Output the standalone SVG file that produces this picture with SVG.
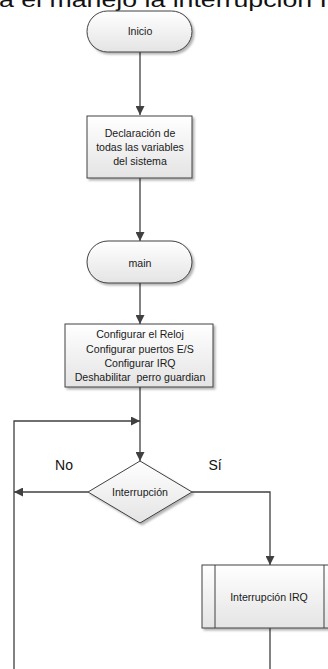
<svg xmlns="http://www.w3.org/2000/svg" width="328" height="669" viewBox="0 0 328 669">
<defs>
<linearGradient id="g" x1="0" y1="0" x2="0" y2="1">
<stop offset="0" stop-color="#ffffff"/>
<stop offset="1" stop-color="#e4e4e4"/>
</linearGradient>
<filter id="sh" x="-10%" y="-10%" width="130%" height="140%">
<feDropShadow dx="2" dy="2" stdDeviation="1.2" flood-color="#000" flood-opacity="0.3"/>
</filter>
<marker id="ah" viewBox="0 0 10 10" refX="10" refY="5" markerWidth="9" markerHeight="9" markerUnits="userSpaceOnUse" orient="auto">
<path d="M0,0 L10,5 L0,10 Z" fill="#404040"/>
</marker>
</defs>
<style>
.shape{fill:url(#g);stroke:#404040;stroke-width:1;filter:url(#sh)}
.t{font-family:"Liberation Sans",Arial,sans-serif;font-size:10.6px;fill:#1a1a1a;text-anchor:middle}
.lbl{font-family:"Liberation Sans",Arial,sans-serif;font-size:14px;fill:#111;text-anchor:middle}
.c{fill:none;stroke:#404040;stroke-width:1.3}
</style>
<rect width="328" height="669" fill="#fff"/>
<text x="-1" y="7" font-family="Liberation Sans,Arial,sans-serif" font-size="20" fill="#111" textLength="328" lengthAdjust="spacingAndGlyphs">a el manejo la interrupción I</text>
<g id="connectors">
<path class="c" d="M140,52 V115" marker-end="url(#ah)"/>
<path class="c" d="M140,178 V241" marker-end="url(#ah)"/>
<path class="c" d="M140,283 V324" marker-end="url(#ah)"/>
<path class="c" d="M140,387 V461" marker-end="url(#ah)"/>
<path class="c" d="M14,669 V421 H140" marker-end="url(#ah)"/>
<path class="c" d="M88,492 H14" marker-end="url(#ah)"/>
<path class="c" d="M192,492 H270 V565" marker-end="url(#ah)"/>
<path class="c" d="M270,628 V669"/>
</g>
<g id="inicio">
<rect class="shape" x="87" y="11" width="105" height="41" rx="20.5"/>
<text class="t" x="140" y="35">Inicio</text>
</g>
<g id="declaracion">
<rect class="shape" x="87" y="116" width="105" height="62"/>
<text class="t" x="140" y="137">Declaración de</text>
<text class="t" x="140" y="151">todas las variables</text>
<text class="t" x="140" y="165">del sistema</text>
</g>
<g id="main">
<rect class="shape" x="87" y="241" width="105" height="42" rx="21"/>
<text class="t" x="140" y="267">main</text>
</g>
<g id="configurar">
<rect class="shape" x="65" y="324" width="148" height="63"/>
<text class="t" x="140" y="338">Configurar el Reloj</text>
<text class="t" x="140" y="353">Configurar puertos E/S</text>
<text class="t" x="140" y="367">Configurar IRQ</text>
<text class="t" x="140" y="381" xml:space="preserve">Deshabilitar  perro guardian</text>
</g>
<g id="interrupcion">
<path class="shape" d="M140,461 L192,492 L140,523 L88,492 Z"/>
<text class="t" x="140" y="496">Interrupción</text>
</g>
<text class="lbl" x="64" y="470">No</text>
<text class="lbl" x="215" y="470">Sí</text>
<g id="interrupcion-irq">
<rect class="shape" x="202" y="565" width="135" height="63"/>
<path d="M215,565 V628 M324,565 V628" stroke="#404040" stroke-width="1" fill="none"/>
<text class="t" x="269" y="601">Interrupción IRQ</text>
</g>
</svg>
